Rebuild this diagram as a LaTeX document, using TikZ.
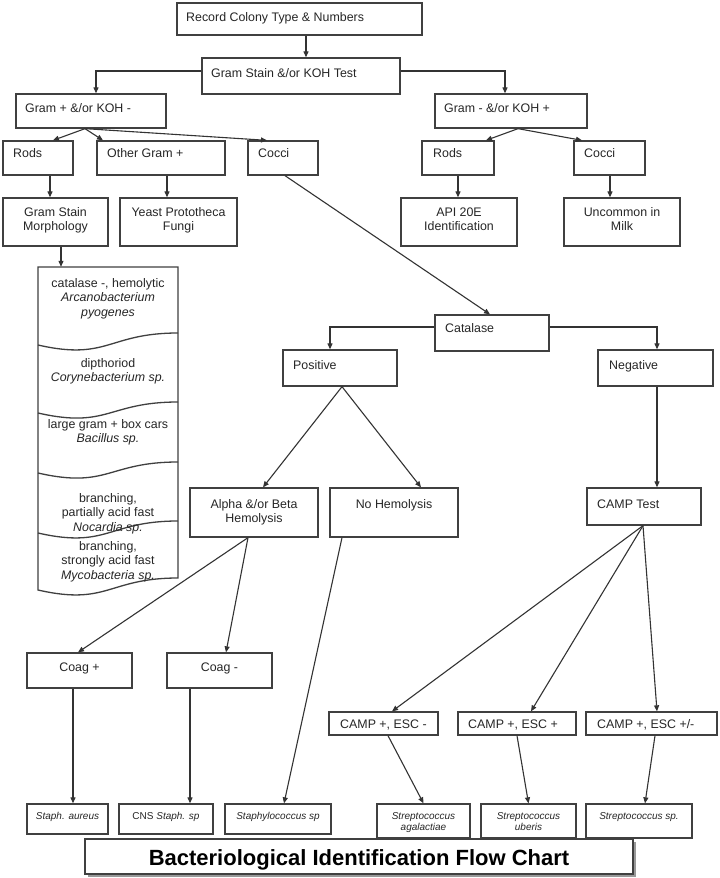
\documentclass[tikz,border=0pt]{standalone}
\usepackage{fontspec}
\setmainfont{Liberation Sans}
\usetikzlibrary{arrows.meta,fit,calc,shadows}
\begin{document}
\begin{tikzpicture}[x=1pt,y=-1pt,
  box/.style={draw=black!75, line width=1.3pt, inner sep=0pt, fill=white},
  arr/.style={draw=black!80, line width=1.1pt, -{Triangle[length=6pt,width=5pt]}},
  outl/.style={draw=black!75, line width=1.3pt},
  txt/.style={inner sep=0pt, text=black!85, font=\fontsize{12.4}{14.5}\selectfont},
  lt/.style={txt, anchor=base west},
  ct/.style={txt, anchor=base, align=center},
  sm/.style={inner sep=0pt, text=black!85, font=\fontsize{10}{11}\selectfont\itshape, anchor=base, align=center}]

\useasboundingbox[fill=white] (0,0) rectangle (720,878);

% ---------- boxes ----------
\node[box, fit={(177,3) (422,35)}] (record) {};
\node[box, fit={(202,58) (400,94)}] (gstain) {};
\node[box, fit={(16,94) (166,128)}] (gpos) {};
\node[box, fit={(435,94) (587,128)}] (gneg) {};
\node[box, fit={(3,141) (73,175)}] (rodsL) {};
\node[box, fit={(97,141) (225,175)}] (other) {};
\node[box, fit={(248,141) (318,175)}] (cocciL) {};
\node[box, fit={(422,141) (494,175)}] (rodsR) {};
\node[box, fit={(574,141) (645,175)}] (cocciR) {};
\node[box, fit={(3,198) (108,246)}] (gsm) {};
\node[box, fit={(120,198) (237,246)}] (yeast) {};
\node[box, fit={(401,198) (517,246)}] (api) {};
\node[box, fit={(564,198) (680,246)}] (uncommon) {};
\node[inner sep=0pt, fit={(38,267) (178,590)}] (stack) {};
\node[box, fit={(435,315) (549,351)}] (catalase) {};
\node[box, fit={(283,350) (397,386)}] (positive) {};
\node[box, fit={(598,350) (713,386)}] (negative) {};
\node[box, fit={(190,488) (318,537)}] (alpha) {};
\node[box, fit={(330,488) (458,537)}] (nohem) {};
\node[box, fit={(587,488) (701,525)}] (camp) {};
\node[box, fit={(27,653) (132,688)}] (coagp) {};
\node[box, fit={(167,653) (272,688)}] (coagm) {};
\node[box, fit={(329,712) (438,735)}] (ce1) {};
\node[box, fit={(458,712) (576,735)}] (ce2) {};
\node[box, fit={(586,712) (717,735)}] (ce3) {};
\node[box, fit={(27,804) (108,834)}] (saur) {};
\node[box, fit={(119,804) (213,834)}] (cns) {};
\node[box, fit={(225,804) (331,834)}] (staph) {};
\node[box, fit={(377,804) (470,838)}] (sagal) {};
\node[box, fit={(481,804) (576,838)}] (suber) {};
\node[box, fit={(586,804) (692,838)}] (sstrep) {};
\node[box, drop shadow={shadow xshift=2.5pt,shadow yshift=-2.5pt,fill=black!40,opacity=1},
      fit={(85,839) (633,874)}] (title) {};

% ---------- stack (document shapes) ----------
\draw[outl, fill=white] (38,267) -- (178,267) -- (178,578)
   .. controls (108,578) and (108,606) .. (38,590) -- cycle;
\draw[outl] (38,345) .. controls (108,361) and (108,333) .. (178,333);
\draw[outl] (38,413) .. controls (108,429) and (108,402) .. (178,402);
\draw[outl] (38,473) .. controls (108,489) and (108,462) .. (178,462);
\draw[outl] (38,533) .. controls (108,549) and (108,521) .. (178,521);

% ---------- texts (multi-line nodes: base = last line) ----------
\node[lt] (t-record) at (186,21) {Record Colony Type \& Numbers};
\node[lt] (t-gstain) at (211,77) {Gram Stain \&/or KOH Test};
\node[lt] (t-gpos) at (25,112) {Gram + \&/or KOH -};
\node[lt] (t-gneg) at (444,112) {Gram - \&/or KOH +};
\node[lt] (t-rodsL) at (13,157) {Rods};
\node[lt] (t-other) at (107,157) {Other Gram +};
\node[lt] (t-cocciL) at (258,157) {Cocci};
\node[lt] (t-rodsR) at (433,157) {Rods};
\node[lt] (t-cocciR) at (584,157) {Cocci};
\node[ct] (t-gsm) at (55.5,230.5) {Gram Stain\\Morphology};
\node[ct] (t-yeast) at (178.5,230.5) {Yeast Prototheca\\Fungi};
\node[ct] (t-api) at (459,230.5) {API 20E\\Identification};
\node[ct] (t-unc) at (622,230.5) {Uncommon in\\Milk};
\node[ct] (t-s1) at (108,316) {catalase -, hemolytic\\\textit{Arcanobacterium}\\\textit{pyogenes}};
\node[ct] (t-s2) at (108,381.5) {dipthoriod\\\textit{Corynebacterium sp.}};
\node[ct] (t-s3) at (108,442.5) {large gram + box cars\\\textit{Bacillus sp.}};
\node[ct] (t-s4) at (108,531) {branching,\\partially acid fast\\\textit{Nocardia sp.}};
\node[ct] (t-s5) at (108,579) {branching,\\strongly acid fast\\\textit{Mycobacteria sp.}};
\node[lt] (t-cat) at (445,332) {Catalase};
\node[lt] (t-pos) at (293,369) {Positive};
\node[lt] (t-neg) at (609,369) {Negative};
\node[ct] (t-alpha) at (254,522.5) {Alpha \&/or Beta\\Hemolysis};
\node[ct] (t-nohem) at (394,508) {No Hemolysis};
\node[lt] (t-camp) at (597,508) {CAMP Test};
\node[ct] (t-coagp) at (79.5,671) {Coag +};
\node[ct] (t-coagm) at (219.5,671) {Coag -};
\node[lt] (t-ce1) at (340,728) {CAMP +, ESC -};
\node[lt] (t-ce2) at (468,728) {CAMP +, ESC +};
\node[lt] (t-ce3) at (597,728) {CAMP +, ESC +/-};
\node[sm] (t-saur) at (67.5,819) {Staph. aureus};
\node[sm] (t-cns) at (166,819) {\upshape CNS \itshape Staph. sp};
\node[sm] (t-staph) at (278,819) {Staphylococcus sp};
\node[sm] (t-sagal) at (423.5,830) {Streptococcus\\agalactiae};
\node[sm] (t-suber) at (528.5,830) {Streptococcus\\uberis};
\node[sm] (t-sstrep) at (639,819) {Streptococcus sp.};
\node[inner sep=0pt, text=black, font=\fontsize{22}{24}\selectfont\bfseries, anchor=base]
   (t-title) at (359,865) {Bacteriological Identification Flow Chart};

% ---------- connectors ----------
\draw[arr] ($(record.south)+(6.5,0)$) -- ($(gstain.north)+(5,0)$);
\draw[arr] ($(gstain.west)+(0,-5)$) -| ($(gpos.north)+(5,0)$);
\draw[arr] ($(gstain.east)+(0,-5)$) -| ($(gneg.north)+(-6,0)$);
\draw[arr] ($(gpos.south)+(-6,0)$) -- ($(rodsL.north)+(15,0)$);
\draw[arr] ($(gpos.south)+(-6,0)$) -- ($(other.north)+(-58,0)$);
\draw[arr] ($(gpos.south)+(-6,0)$) -- ($(cocciL.north)+(-16,0)$);
\draw[arr] ($(gneg.south)+(7,0)$) -- ($(rodsR.north)+(28,0)$);
\draw[arr] ($(gneg.south)+(7,0)$) -- ($(cocciR.north)+(-27.5,0)$);
\draw[arr] ($(rodsL.south)+(12,0)$) -- ($(gsm.north)+(-5.5,0)$);
\draw[arr] ($(other.south)+(6,0)$) -- ($(yeast.north)+(-11.5,0)$);
\draw[arr] (rodsR.south) -- ($(api.north)+(-1,0)$);
\draw[arr] ($(cocciR.south)+(0.5,0)$) -- ($(uncommon.north)+(-12,0)$);
\draw[arr] ($(gsm.south)+(5.5,0)$) -- ($(stack.north)+(-47,0)$);
\draw[arr] ($(cocciL.south)+(2,0)$) -- ($(catalase.north)+(-2,0)$);
\draw[arr] ($(catalase.west)+(0,-6)$) -| ($(positive.north)+(-10,0)$);
\draw[arr] ($(catalase.east)+(0,-6)$) -| ($(negative.north)+(1.5,0)$);
\draw[arr] ($(positive.south)+(2,0)$) -- ($(alpha.north)+(9,0)$);
\draw[arr] ($(positive.south)+(2,0)$) -- ($(nohem.north)+(27,0)$);
\draw[arr] ($(negative.south)+(1.5,0)$) -- ($(camp.north)+(13,0)$);
\draw[arr] ($(alpha.south)+(-6,0)$) -- ($(coagp.north)+(-1.5,0)$);
\draw[arr] ($(alpha.south)+(-6,0)$) -- ($(coagm.north)+(6.5,0)$);
\draw[arr] ($(nohem.south)+(-52,0)$) -- ($(staph.north)+(6,0)$);
\draw[arr] ($(coagp.south)+(-6.5,0)$) -- ($(saur.north)+(5.5,0)$);
\draw[arr] ($(coagm.south)+(-29.5,0)$) -- ($(cns.north)+(24,0)$);
\draw[arr] ($(camp.south)+(-1,0)$) -- ($(ce1.north)+(8.5,0)$);
\draw[arr] ($(camp.south)+(-1,0)$) -- ($(ce2.north)+(14,0)$);
\draw[arr] ($(camp.south)+(-1,0)$) -- ($(ce3.north)+(5.5,0)$);
\draw[arr] ($(ce1.south)+(4.5,0)$) -- (sagal.north);
\draw[arr] (ce2.south) -- (suber.north);
\draw[arr] ($(ce3.south)+(3.5,0)$) -- ($(sstrep.north)+(6,0)$);
\end{tikzpicture}
\end{document}
